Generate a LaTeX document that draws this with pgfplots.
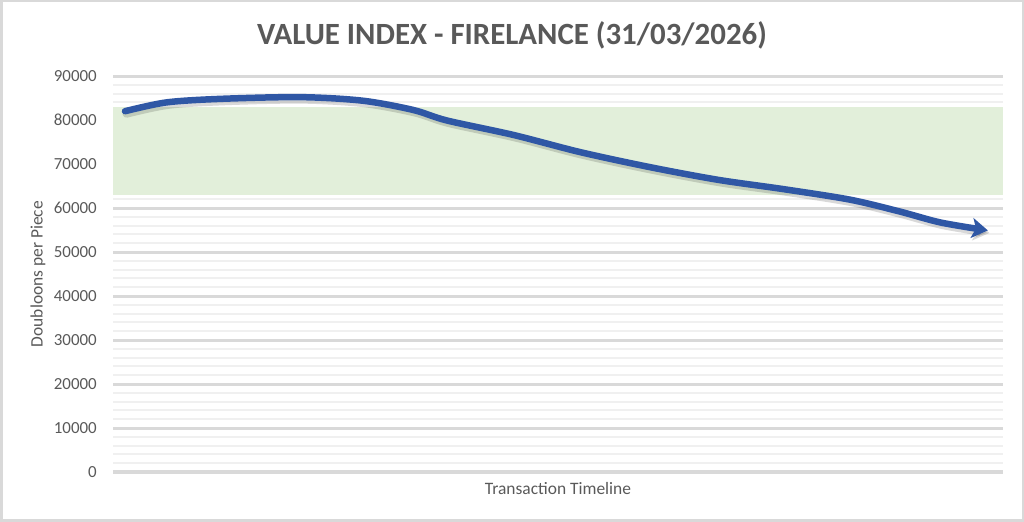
\documentclass[border=0pt]{standalone}
\usepackage{pgfplots}
\pgfplotsset{compat=1.18}
\usetikzlibrary{arrows.meta}
\usepackage{fontspec}
\setmainfont{Carlito}
\definecolor{txt}{HTML}{595959}
\definecolor{majg}{HTML}{D9D9D9}
\definecolor{ming}{HTML}{F0F0F0}
\definecolor{band}{HTML}{E2EFDA}
\definecolor{lineblue}{HTML}{2F57A5}
\begin{document}
\begin{tikzpicture}[x=1bp,y=1bp]
\path[use as bounding box] (0,0) rectangle (1024bp,522bp);
\draw[majg, line width=2.5bp] (1.25bp,1.25bp) rectangle (1022.75bp,520.75bp);
\begin{axis}[
  at={(113bp,50bp)}, anchor=south west,
  scale only axis, width=890bp, height=396bp,
  xmin=0, xmax=100, ymin=0, ymax=90000,
  xtick=\empty,
  ytick={0,10000,...,90000},
  minor y tick num=4,
  ymajorgrids, yminorgrids,
  major grid style={majg, line width=3bp},
  minor grid style={ming, line width=2bp},
  axis line style={draw=none},
  major tick length=0pt, minor tick length=0pt,
  scaled y ticks=false,
  yticklabel style={/pgf/number format/1000 sep={}, /pgf/number format/assume math mode=true, font=\fontsize{17}{20}\selectfont, text=txt, inner sep=0pt, anchor=east, xshift=-16bp},
  ylabel={Doubloons per Piece},
  ylabel style={at={(axis description cs:0,0.5)}, anchor=center, yshift=75bp, font=\fontsize{17.5}{20}\selectfont, text=txt},
  xlabel={Transaction Timeline},
  xlabel style={at={(axis description cs:0.5,0)}, anchor=center, yshift=-17bp, font=\fontsize{17.5}{20}\selectfont, text=txt},
  title={\textbf{VALUE INDEX - FIRELANCE (31/03/2026)}},
  title style={at={(axis description cs:0.5,1)}, anchor=center, xshift=-46bp, yshift=35bp, font=\fontsize{31}{36}\selectfont, text=txt},
  clip=false,
]
\addplot[fill=band, draw=none] coordinates {(0,63000) (100,63000) (100,83000) (0,83000)} -- cycle;
\addplot[smooth, black, opacity=0.15, line width=8bp, line cap=round, transform canvas={xshift=1.5bp, yshift=-2.5bp}, -{Stealth[length=16bp, width=20bp, inset=4bp]}] coordinates {
(1.35,82000) (6,84000) (12,84800) (21,85200) (28,84400) (33.7,82300) (37.5,79900) (45,76600) (52.5,72700) (60.3,69300) (68,66400) (75.3,64300) (82.8,61900) (88.4,59200) (93,56700) (98.3,54900)
};
\addplot[smooth, lineblue, line width=6.5bp, line cap=round, -{Stealth[length=16bp, width=20bp, inset=4bp]}] coordinates {
(1.35,82000) (6,84000) (12,84800) (21,85200) (28,84400) (33.7,82300) (37.5,79900) (45,76600) (52.5,72700) (60.3,69300) (68,66400) (75.3,64300) (82.8,61900) (88.4,59200) (93,56700) (98.3,54900)
};
\end{axis}
\end{tikzpicture}
\end{document}
